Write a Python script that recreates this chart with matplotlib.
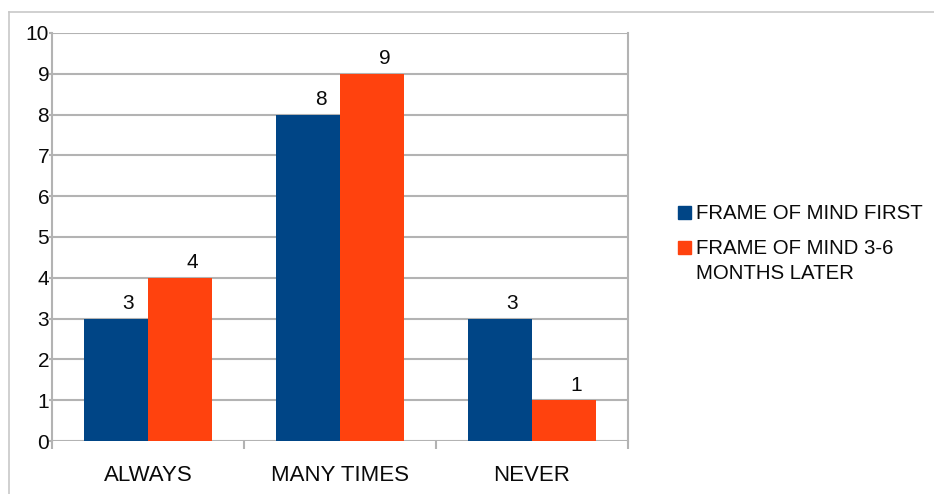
import matplotlib
matplotlib.use("Agg")
import matplotlib.pyplot as plt
from matplotlib.lines import Line2D
from matplotlib.patches import Rectangle
import numpy as np

categories = ["ALWAYS", "MANY TIMES", "NEVER"]
series_names = ["FRAME OF MIND FIRST", "FRAME OF MIND 3-6\nMONTHS LATER"]
first = [3, 8, 3]
later = [4, 9, 1]
y_ticks = list(range(0, 11))

BLUE = "#004586"
ORANGE = "#ff420e"
GRID = "#b3b3b3"
TXT = "#0a0a0a"

plt.rcParams['font.family'] = ['Liberation Sans', 'DejaVu Sans']

W, H = 934, 494
fig = plt.figure(figsize=(W / 100, H / 100), dpi=100)

# outer frame lines (top and left)
fig.add_artist(Line2D([9 / W, 1.0], [1 - 12 / H, 1 - 12 / H], transform=fig.transFigure,
                      color="#c8c8c8", lw=1.2))
fig.add_artist(Line2D([9 / W, 9 / W], [0, 1 - 12 / H], transform=fig.transFigure,
                      color="#c8c8c8", lw=1.2))

ax = fig.add_axes([52 / W, (H - 441) / H, 576 / W, 408 / H])
x = np.arange(len(categories))
bw = 1 / 3
ax.bar(x - bw / 2, first, width=bw, color=BLUE, zorder=3)
ax.bar(x + bw / 2, later, width=bw, color=ORANGE, zorder=3)

for xi, v in zip(x, first):
    ax.annotate(str(v), (xi - bw / 2, v), xytext=(9, 4), textcoords="offset points",
                ha="center", va="bottom", fontsize=15, color=TXT, zorder=4)
for xi, v in zip(x, later):
    ax.annotate(str(v), (xi + bw / 2, v), xytext=(9, 4), textcoords="offset points",
                ha="center", va="bottom", fontsize=15, color=TXT, zorder=4)

ax.set_xlim(-0.5, len(categories) - 0.5)
ax.set_ylim(0, 10)
ax.set_yticks(y_ticks)
ax.set_yticklabels([str(t) for t in y_ticks], fontsize=15, color=TXT)
ax.set_xticks(np.arange(-0.5, len(categories), 1.0))
ax.set_xticklabels([])
ax.set_xticks(x, minor=True)
ax.set_xticklabels(categories, minor=True, fontsize=16, color=TXT)
ax.tick_params(axis="x", which="major", length=6, width=1.5, color=GRID, direction="out")
ax.tick_params(axis="x", which="minor", length=0, pad=17)
ax.tick_params(axis="y", length=2, width=1.5, color=GRID, pad=0)

ax.grid(axis="y", color=GRID, lw=1.5, zorder=1)
for s in ["top", "bottom"]:
    ax.spines[s].set_visible(False)
for s in ["left", "right"]:
    ax.spines[s].set_color(GRID)
    ax.spines[s].set_linewidth(1.5)

# legend: squares aligned with the first line of each label
leg_colors = [BLUE, ORANGE]
leg_baselines = [219, 254]
line_step = 25
for col, name, base in zip(leg_colors, series_names, leg_baselines):
    fig.add_artist(Rectangle((678 / W, 1 - base / H), 13 / W, 13 / H,
                             transform=fig.transFigure, color=col))
    for k, line in enumerate(name.split("\n")):
        fig.text(696 / W, 1 - (base + k * line_step) / H, line, ha="left",
                 va="baseline", fontsize=14.7, color=TXT)

fig.savefig("out.png", dpi=100, facecolor="white")
